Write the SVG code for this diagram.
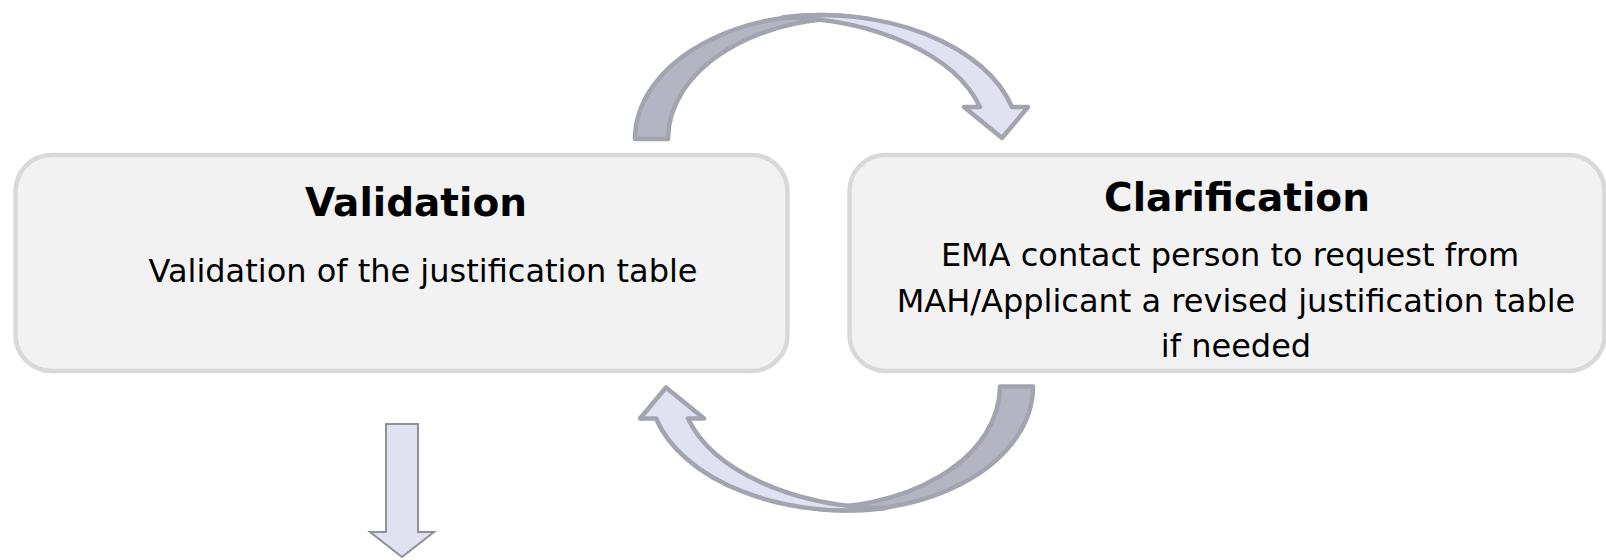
<svg xmlns="http://www.w3.org/2000/svg" width="1606" height="560" viewBox="0 0 1606 560">
<style>
.box{fill:#f2f2f2;stroke:#d9d9d9;stroke-width:4.5}
.t{font-family:"DejaVu Sans","Verdana",sans-serif;fill:#000;text-anchor:middle}
.title{font-size:39px;font-weight:bold}
.body{font-size:32px}
.back{fill:#b3b5c2;stroke:#a2a4b0;stroke-width:4.5;stroke-linejoin:round}
.front{fill:#e0e2f1;stroke:#a2a4b0;stroke-width:4.5;stroke-linejoin:round}
.down{fill:#e0e2f1;stroke:#8f9098;stroke-width:2}
</style>
<defs>
<g id="curved">
<path class="back" d="M635,139 A188,124 0 0 1 868,18.6 A182,121 0 0 0 668,139 Z"/>
<path class="front" d="M783,17.2 A198.7,124 0 0 1 1012,107 L1028,107 L1002,138 L964,107 L980,107 A210.4,122 0 0 0 783,17.2 Z"/>
</g>
</defs>
<rect width="1606" height="560" fill="#fff"/>
<g id="validation">
<rect class="box" x="15.5" y="155" width="772" height="216" rx="36"/>
<text class="t title" x="416" y="216">Validation</text>
<text class="t body" x="423" y="282">Validation of the justification table</text>
</g>
<g id="clarification">
<rect class="box" x="849.5" y="155" width="755" height="216" rx="36"/>
<text class="t title" x="1237" y="211">Clarification</text>
<text class="t body" x="1230" y="266">EMA contact person to request from</text>
<text class="t body" x="1236" y="312">MAH/Applicant a revised justification table</text>
<text class="t body" x="1236" y="357">if needed</text>
</g>
<g id="connectors">
<use href="#curved"/>
<use href="#curved" transform="rotate(180 834 262.75)"/>
<polygon class="down" points="386,424 418,424 418,532 434,532 402,557 370,532 386,532"/>
</g>
</svg>
